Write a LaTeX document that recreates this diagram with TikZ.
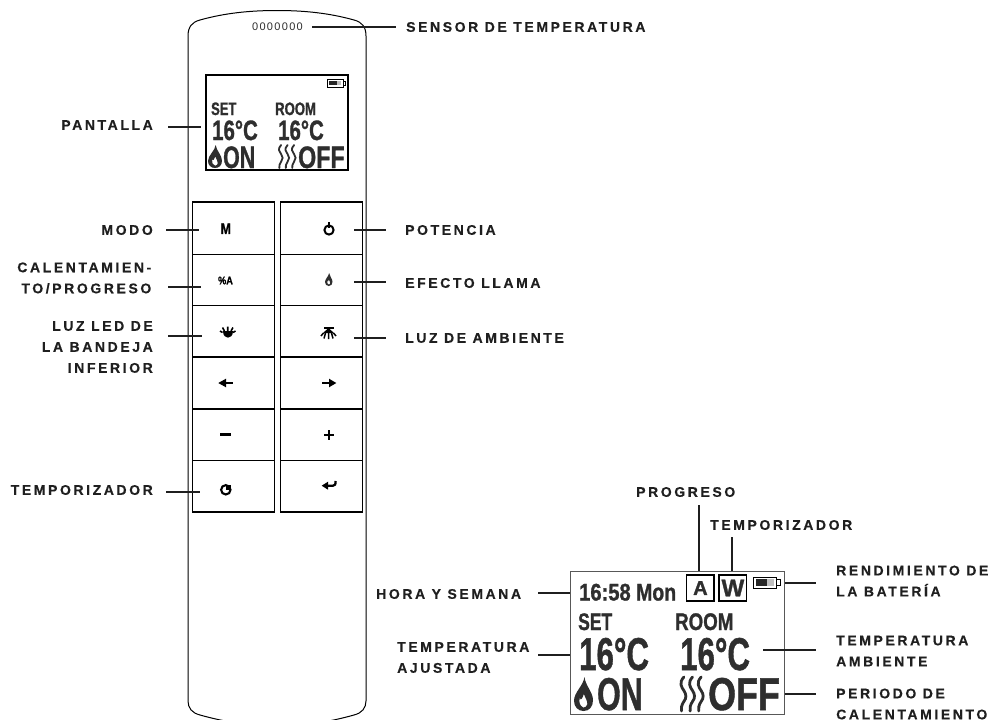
\documentclass[tikz,border=0pt]{standalone}
\usepackage{fontspec}
\setmainfont{Liberation Sans}
\newfontfamily\labA[LetterSpace=18.5,BoldFeatures={FakeBold=0.3}]{Liberation Sans}
\newfontfamily\sens[LetterSpace=12]{Liberation Sans}
\newfontfamily\lcdf[BoldFeatures={FakeBold=1.2}]{Liberation Sans}
\definecolor{ink}{HTML}{1F1F1F}
\definecolor{lcd}{HTML}{2E2E2E}
\newcommand\fs[1]{\lcdf\bfseries\fontsize{#1}{#1}\selectfont}
\tikzset{
  lbl/.style={inner sep=0pt,align=#1,font=\labA\bfseries\fontsize{14}{21}\selectfont,text=ink},
  lbl/.default=left,
  conn/.style={draw=ink,line width=2pt},
  btn/.style={draw=black,line width=1.1pt},
  lcdt/.style={inner sep=0pt,anchor=base west,text=lcd},
  ico/.style={inner sep=0pt,text=black},
  pics/flame/.style={code={
    \fill[lcd,even odd rule] (.55,0) .. controls (.5,.25) and (0,.45) .. (0,.7)
      .. controls (0,.88) and (.22,1) .. (.5,1) .. controls (.8,1) and (1,.88) .. (1,.68)
      .. controls (1,.45) and (.6,.25) .. (.55,0) -- cycle
      (.5,.9) .. controls (.3,.85) and (.25,.75) .. (.3,.62) .. controls (.38,.72) and (.45,.6) .. (.52,.5)
      .. controls (.6,.62) and (.72,.72) .. (.7,.8) .. controls (.68,.85) and (.6,.9) .. (.5,.9) -- cycle;
  }},
  pics/waves/.style={code={
    \foreach \xx in {0.12,0.48,0.84}{
      \draw[lcd,line width=#1,line cap=round] (\xx,0) .. controls (\xx-.22,.17) and (\xx-.1,.3) .. (\xx,.4)
        .. controls (\xx+.1,.5) and (\xx+.12,.62) .. (\xx,.72) .. controls (\xx-.1,.82) and (\xx-.12,.92) .. (\xx-.1,1);
    }
  }},
  pics/batt/.style={code={
    \draw[black,line width=.7pt] (0,0) rectangle (.87,1);
    \draw[black,line width=.7pt] (.87,.25) -- (1,.25) -- (1,.75) -- (.87,.75);
    \fill[black!85] (.1,.2) rectangle (.5,.8);
    \fill[black!25] (.5,.2) rectangle (.76,.8);
  }}
}
\begin{document}
\begin{tikzpicture}[x=1pt,y=-1pt]
\useasboundingbox (0,0) rectangle (996,720);
\fill[white] (0,0) rectangle (996,720);
% remote body
\draw[black,line width=1pt] (188,36) .. controls (188,27) and (192,22) .. (200,20)
  .. controls (225,13) and (250,10.5) .. (277,10.5) .. controls (304,10.5) and (329,13) .. (354,20)
  .. controls (362,22) and (366,27) .. (366,36) -- (366,701)
  .. controls (366,708) and (362,713) .. (354,715) .. controls (329,722) and (304,726) .. (277,726)
  .. controls (250,726) and (225,722) .. (200,715) .. controls (192,713) and (188,708) .. (188,701) -- cycle;
\node[inner sep=0pt,anchor=center,font=\sens\fontsize{11}{11}\selectfont,text=lcd] (sensor) at (277.5,26.5) {0000000};
% small display
\node[draw=black,line width=1.1pt,inner sep=0pt,minimum width=142pt,minimum height=95pt] (lcdS) at (277,122.5) {};
\pic[xscale=18,yscale=8] at (327.5,79) {batt};
\node[lcdt,font=\fs{18},xscale=.72] (sS) at (211,115) {SET};
\node[lcdt,font=\fs{18},xscale=.73] (rS) at (275,115) {ROOM};
\node[lcdt,font=\fs{28},xscale=.73] (t1S) at (212,140) {16°C};
\node[lcdt,font=\fs{28},xscale=.73] (t2S) at (278,140) {16°C};
\node[lcdt,font=\fs{31},xscale=.69] (onS) at (223,168) {ON};
\node[lcdt,font=\fs{31},xscale=.75] (offS) at (298,168) {OFF};
\pic[xscale=14,yscale=23] at (208,145) {flame};
\pic[xscale=18,yscale=23] at (279,145) {waves=1.8pt};
% buttons
\foreach \nm/\a/\b in {a/202/254.5,b/254.5/305.7,c/305.7/357,d/357/409,e/409/460.5,f/460.5/512}{
  \node[btn,inner sep=0pt,minimum width=81.7pt,minimum height=\b pt-\a pt] (l\nm) at (233.2,{(\a+\b)/2}) {};
  \node[btn,inner sep=0pt,minimum width=81.4pt,minimum height=\b pt-\a pt] (r\nm) at (321.4,{(\a+\b)/2}) {};
}
% button icons
\node[ico,font=\fs{15.4},xscale=.8] (iM) at (225.8,228.7) {M};
\node[ico,font=\fs{11},xscale=.83] (iHA) at (225.5,280.5) {\%A};
\draw[black,line width=2pt] (329,230) circle (4.6pt);
\draw[black,line width=2pt] (329,222) -- (329,228);
\pic[xscale=7.5,yscale=13] at (325,273) {flame};
% led icon
\fill[black] (222.8,331) .. controls (222.8,339.5) and (232.6,339.5) .. (232.6,331) -- cycle;
\draw[black,line width=1.6pt] (227.7,331) -- (227.7,326.7) (224.5,331) -- (222.5,327.5) (231,331) -- (233,327.5) (222.5,332.5) -- (220,331) (233,332.5) -- (235.5,331);
% ambient icon
\fill[black] (323.5,326.7) rectangle (333.5,329.2);
\fill[black] (323,333) -- (334,333) -- (328.5,328) -- cycle;
\draw[black,line width=1.5pt] (328.5,333) -- (328.5,339) (325.5,333) -- (324,338.5) (331.5,333) -- (333,338.5) (323.5,333) -- (321,336) (333.5,333) -- (336,336);
% arrows
\draw[black,line width=2.4pt] (224,383) -- (233.3,383);
\fill[black] (218.3,383) -- (226,378.7) -- (226,387.3) -- cycle;
\draw[black,line width=2.4pt] (322,383) -- (331,383);
\fill[black] (336.3,383) -- (329,378.7) -- (329,387.3) -- cycle;
\draw[black,line width=2.4pt] (220,434.4) -- (231,434.4);
\draw[black,line width=2.2pt] (324,435) -- (334,435) (329,430) -- (329,440);
% clock
\draw[black,line width=2.1pt] (225.8,489.8) circle (4.7pt);
\fill[black] (225.8,489.8) -- (225.8,485) -- (230.5,485) -- (230.5,489.8) -- cycle;
% enter
\draw[black,line width=2.3pt] (325,485.7) -- (333,485.7) .. controls (335,485.7) and (335.6,484.5) .. (335.6,481);
\fill[black] (321.7,485.7) -- (328,481.7) -- (328,489.7) -- cycle;
% big display
\node[draw=lcd!80,line width=1.1pt,inner sep=0pt,minimum width=213.3pt,minimum height=142.3pt] (lcdB) at (677.4,642.9) {};
\node[draw=black,line width=1.4pt,inner sep=0pt,minimum width=27.3pt,minimum height=26pt,font=\fs{20},text=lcd] (boxA) at (700.4,588) {A};
\node[draw=black,line width=1.4pt,inner sep=0pt,minimum width=27.7pt,minimum height=26pt,font=\fs{24},text=lcd] (boxW) at (732.9,588) {W};
\pic[xscale=27,yscale=11] at (753,577) {batt};
\node[lcdt,font=\fs{24},xscale=.84] (clk) at (579,600.5) {16:58};
\node[lcdt,font=\fs{24},xscale=.81] (mon) at (636,600.5) {Mon};
\node[lcdt,font=\fs{24},xscale=.73] (sB) at (578,630) {SET};
\node[lcdt,font=\fs{24},xscale=.78] (rB) at (675,630) {ROOM};
\node[lcdt,font=\fs{46},xscale=.68] (t1B) at (579,670) {16°C};
\node[lcdt,font=\fs{46},xscale=.68] (t2B) at (680,670) {16°C};
\node[lcdt,font=\fs{46},xscale=.66] (onB) at (597,710) {ON};
\node[lcdt,font=\fs{46},xscale=.78] (offB) at (708,710) {OFF};
\pic[xscale=19,yscale=34] at (574,677) {flame};
\pic[xscale=24,yscale=34] at (681,677) {waves=2.8pt};
% labels
\node[lbl,anchor=west] (Lsens) at (406,27) {SENSOR DE TEMPERATURA};
\node[lbl,anchor=east] (Lpant) at (153,125) {PANTALLA};
\node[lbl,anchor=east] (Lmodo) at (153,230) {MODO};
\node[lbl=right,anchor=east] (Lcal) at (151.5,278) {CALENTAMIEN-\\TO/PROGRESO};
\node[lbl=right,anchor=east] (Lled) at (153,347) {LUZ LED DE\\LA BANDEJA\\INFERIOR};
\node[lbl,anchor=east] (Ltemp) at (153,490) {TEMPORIZADOR};
\node[lbl,anchor=west] (Lpot) at (405,230) {POTENCIA};
\node[lbl,anchor=west] (Lefe) at (405,283) {EFECTO LLAMA};
\node[lbl,anchor=west] (Lamb) at (405,338) {LUZ DE AMBIENTE};
\node[lbl,anchor=west] (Lprog) at (636,492) {PROGRESO};
\node[lbl,anchor=west] (Ltemp2) at (710,525) {TEMPORIZADOR};
\node[lbl,anchor=west] (Lhora) at (376,594) {HORA Y SEMANA};
\node[lbl,anchor=west] (Lajus) at (397,657.5) {TEMPERATURA\\AJUSTADA};
\node[lbl,anchor=west] (Lrend) at (836,581) {RENDIMIENTO DE\\LA BATERÍA};
\node[lbl,anchor=west] (Lambt) at (836,651) {TEMPERATURA\\AMBIENTE};
\node[lbl,anchor=west] (Lper) at (836,704) {PERIODO DE\\CALENTAMIENTO};
% connector ends
\coordinate (c1) at (312,27);  \coordinate (c2) at (396,27);
\coordinate (c3) at (168,127); \coordinate (c4) at (201,127);
\coordinate (c5) at (166,230); \coordinate (c6) at (199,230);
\coordinate (c7) at (168,287); \coordinate (c8) at (201,287);
\coordinate (c9) at (168,336); \coordinate (c10) at (201.5,336);
\coordinate (c11) at (166,491.7); \coordinate (c12) at (200,491.7);
\coordinate (c13) at (354,230); \coordinate (c14) at (386,230);
\coordinate (c15) at (354,282); \coordinate (c16) at (386,282);
\coordinate (c17) at (354,338); \coordinate (c18) at (386,338);
\coordinate (c19) at (699.3,505); \coordinate (c20) at (732.3,537);
\coordinate (c21) at (538,593); \coordinate (c22) at (538,655);
\coordinate (c23) at (785,583); \coordinate (c24) at (816,583);
\coordinate (c25) at (763,650); \coordinate (c26) at (816,650);
\coordinate (c27) at (785,694); \coordinate (c28) at (816,694);
\draw[conn] (c1)--(c2) (c3)--(c4) (c5)--(c6) (c7)--(c8) (c9)--(c10) (c11)--(c12)
  (c13)--(c14) (c15)--(c16) (c17)--(c18) (c23)--(c24) (c25)--(c26) (c27)--(c28);
\draw[conn] (c19) -- (c19 |- lcdB.north);
\draw[conn] (c20) -- (c20 |- lcdB.north);
\draw[conn] (c21) -- (c21 -| lcdB.west);
\draw[conn] (c22) -- (c22 -| lcdB.west);
\end{tikzpicture}
\end{document}
